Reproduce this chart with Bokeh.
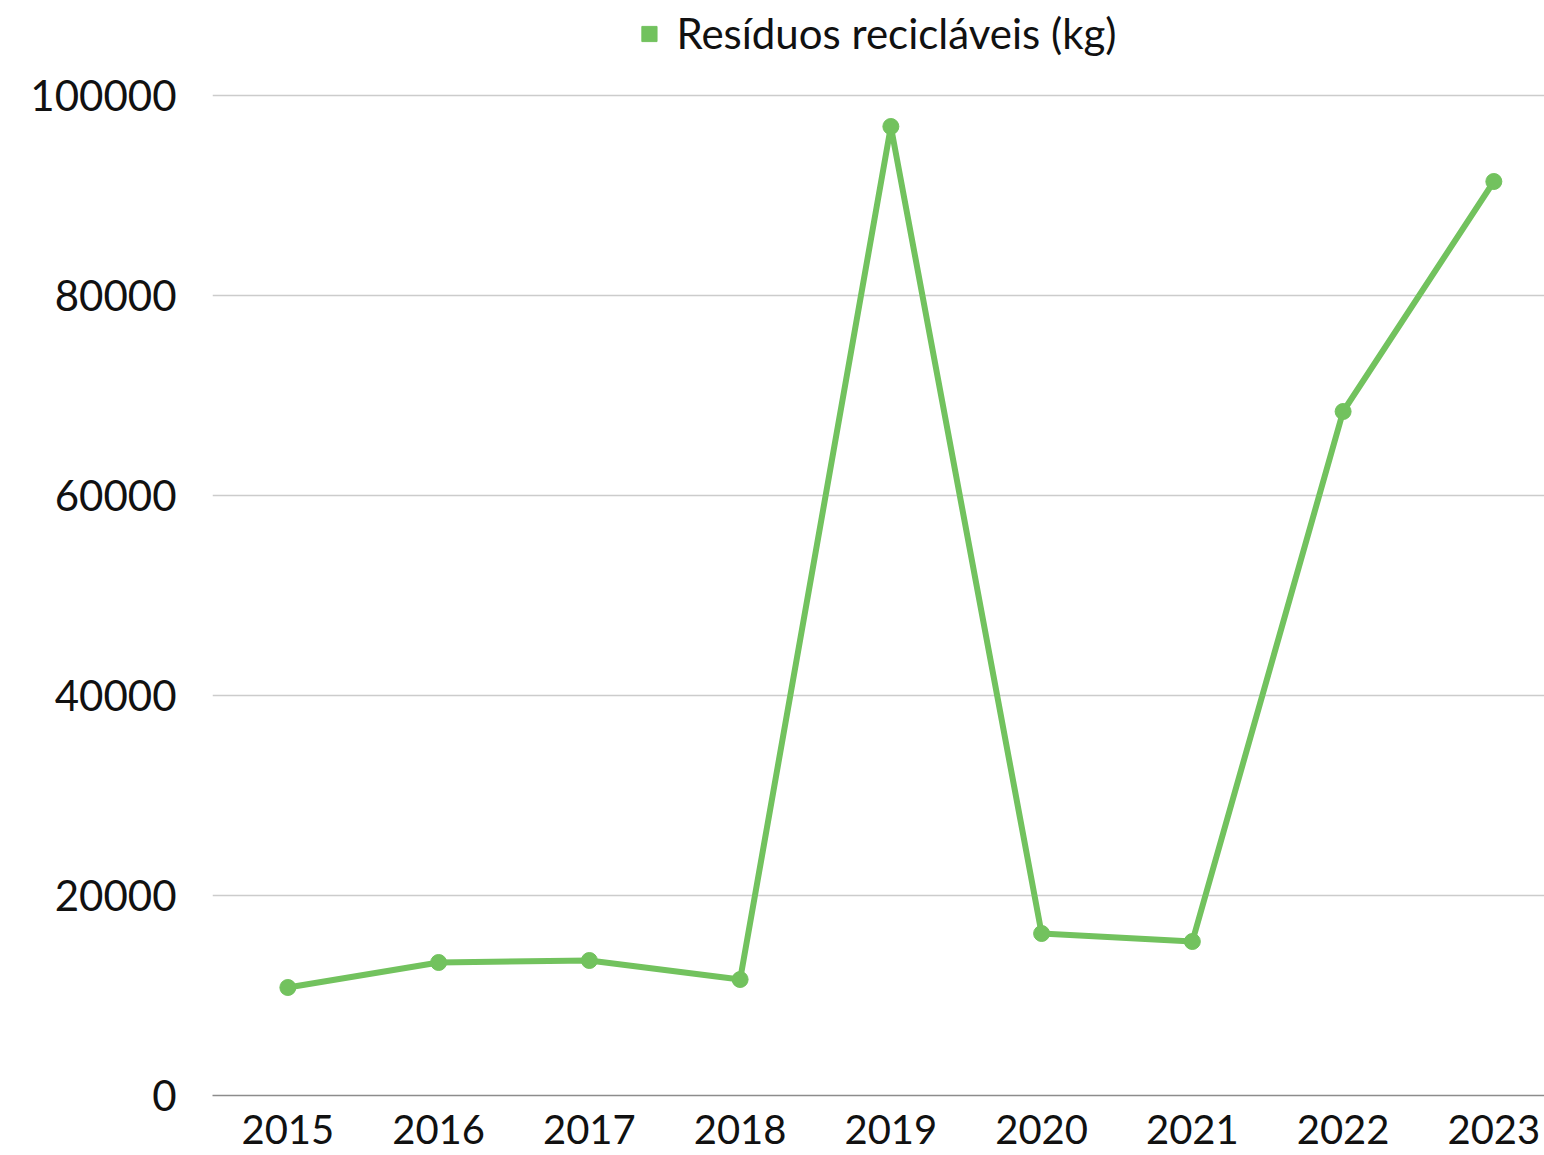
from bokeh.plotting import figure
from bokeh.models import Range1d, FixedTicker, ColumnDataSource, Legend, LegendItem
from bokeh.embed import file_html
from bokeh.resources import INLINE

years = ["2015", "2016", "2017", "2018", "2019", "2020", "2021", "2022", "2023"]
residuos = [10800, 13300, 13500, 11600, 96900, 16200, 15400, 68400, 91400]
y_ticks = [0, 20000, 40000, 60000, 80000, 100000]
series_name = "Resíduos recicláveis (kg)"

GREEN = "#72c25e"
FONT = "Lato"

xs = list(range(len(years)))
src = ColumnDataSource(dict(x=xs, y=residuos))

p = figure(width=1544, height=1155, output_backend="svg", toolbar_location=None,
           x_range=Range1d(-0.5, 8.336), y_range=Range1d(0, 109500),
           min_border_left=212, min_border_right=0, min_border_top=0, min_border_bottom=60)
p.outline_line_color = None
p.background_fill_color = "white"

line_r = p.line("x", "y", source=src, line_color=GREEN, line_width=6)
pts_r = p.scatter("x", "y", source=src, size=16, fill_color=GREEN, line_color=GREEN)
nan = float("nan")
leg_r = p.quad(left=[nan], right=[nan], bottom=[nan], top=[nan],
               fill_color=GREEN, line_color=GREEN)

p.xaxis.ticker = FixedTicker(ticks=xs)
p.xaxis.major_label_overrides = {i: y for i, y in enumerate(years)}
p.xaxis.axis_line_color = "#8c8c8c"
p.xaxis.axis_line_width = 1.5
p.xaxis.major_tick_line_color = None
p.xaxis.minor_tick_line_color = None
p.xaxis.major_label_text_font = FONT
p.xaxis.major_label_text_font_size = "40px"
p.xaxis.major_label_text_color = "#111111"
p.xaxis.major_label_standoff = 13

p.yaxis.ticker = FixedTicker(ticks=y_ticks)
p.yaxis.axis_line_color = None
p.yaxis.major_tick_line_color = None
p.yaxis.minor_tick_line_color = None
p.yaxis.major_label_text_font = FONT
p.yaxis.major_label_text_font_size = "42px"
p.yaxis.major_label_text_color = "#111111"
p.yaxis.major_label_standoff = 30
p.yaxis.formatter.use_scientific = False

p.xgrid.grid_line_color = None
p.ygrid.grid_line_color = "#cccccc"
p.ygrid.grid_line_width = 1.5

legend = Legend(items=[LegendItem(label=series_name, renderers=[leg_r])],
                location="top_center", orientation="horizontal",
                label_text_font=FONT, label_text_font_size="42px",
                label_text_color="#111111",
                glyph_width=19, glyph_height=19, label_standoff=18,
                border_line_color=None, background_fill_alpha=0,
                margin=8, padding=4)
p.add_layout(legend)

open("out.html", "w").write(file_html(p, INLINE))
